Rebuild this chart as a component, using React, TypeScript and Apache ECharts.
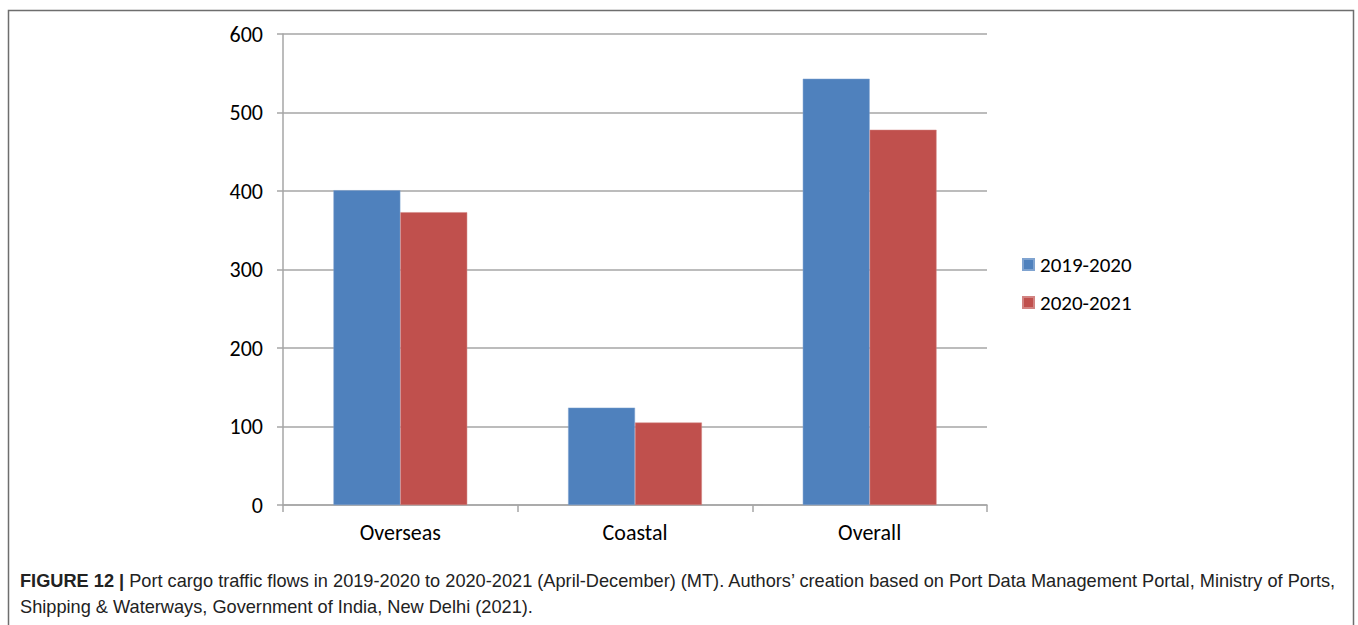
import React, { useEffect, useRef } from "react";
import * as echarts from "echarts";

const categories = ["Overseas", "Coastal", "Overall"];
const seriesNames = ["2019-2020", "2020-2021"];
const values2019 = [401, 124, 543];
const values2020 = [373, 105, 478];
const yTicks = [0, 100, 200, 300, 400, 500, 600];
const captionBold = "FIGURE 12 |";
const captionLine1 =
  " Port cargo traffic flows in 2019-2020 to 2020-2021 (April-December) (MT). Authors\u2019 creation based on Port Data Management Portal, Ministry of Ports,";
const captionLine2 = "Shipping & Waterways, Government of India, New Delhi (2021).";

export default function App() {
  const ref = useRef<HTMLDivElement>(null);
  useEffect(() => {
    if (!ref.current) return;
    const chart = echarts.init(ref.current, undefined, { renderer: "svg" });
    const labelFont = "Carlito, Calibri, 'Open Sans', 'DejaVu Sans', sans-serif";
    const capFont = "'Liberation Sans Narrow', 'Liberation Sans', Arial, sans-serif";
    chart.setOption({
      animation: false,
      backgroundColor: "#ffffff",
      grid: { left: 283, right: 371, top: 34, bottom: 120, containLabel: false },
      legend: {
        orient: "vertical",
        left: 1017,
        top: 249,
        itemWidth: 11,
        itemHeight: 11,
        itemGap: 17,
        icon: "rect",
        textStyle: { fontFamily: labelFont, fontSize: 21, color: "#000", padding: [0, 0, 0, 1] },
        data: seriesNames,
      },
      xAxis: {
        type: "category",
        data: categories,
        axisLine: { lineStyle: { color: "#a6a6a6", width: 1.5 } },
        axisTick: { show: true, length: 7, lineStyle: { color: "#a6a6a6", width: 1.5 } },
        axisLabel: { fontFamily: labelFont, fontSize: 22, color: "#000", margin: 16 },
      },
      yAxis: {
        type: "value",
        min: yTicks[0],
        max: yTicks[yTicks.length - 1],
        interval: 100,
        axisLine: { show: true, lineStyle: { color: "#a6a6a6", width: 1.5 } },
        axisTick: { show: true, length: 6, lineStyle: { color: "#a6a6a6", width: 1.5 } },
        splitLine: { lineStyle: { color: "#a6a6a6", width: 1.5 } },
        axisLabel: { fontFamily: labelFont, fontSize: 22, color: "#000", margin: 20 },
      },
      series: [
        {
          name: seriesNames[0],
          type: "bar",
          data: values2019,
          barGap: "0%",
          barCategoryGap: "43%",
          itemStyle: { color: "#4f81bd", borderColor: "#7fa3d0", borderWidth: 0.5 },
        },
        {
          name: seriesNames[1],
          type: "bar",
          data: values2020,
          itemStyle: { color: "#c0504d", borderColor: "#d28482", borderWidth: 0.5 },
        },
      ],
      graphic: [
        {
          type: "rect",
          shape: { x: 8.5, y: 10.5, width: 1345, height: 650 },
          style: { fill: "none", stroke: "#6e6e6e", lineWidth: 1.5 },
          silent: true,
        },
        {
          type: "text",
          left: 20,
          top: 572,
          style: {
            rich: {
              b: { fontFamily: capFont, fontSize: 18.2, fontWeight: "bold", fill: "#222" },
              n: { fontFamily: capFont, fontSize: 18.2, fill: "#222" },
            },
            text: "{b|" + captionBold + "}{n|" + captionLine1 + "}",
          },
        },
        {
          type: "text",
          left: 20,
          top: 598,
          style: { text: captionLine2, fontFamily: capFont, fontSize: 18.2, fill: "#222" },
        },
      ],
    });
    return () => chart.dispose();
  }, []);
  return (
    <div
      ref={ref}
      style={{ position: "absolute", left: 0, top: 0, width: 1358, height: 625 }}
    />
  );
}
